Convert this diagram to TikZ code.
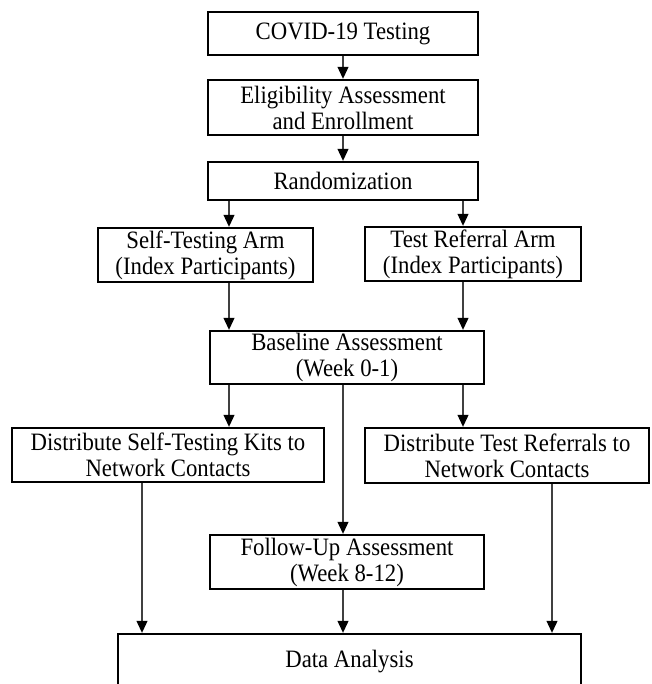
\documentclass[tikz,border=0pt]{standalone}
\usepackage{fontspec}
\setmainfont[FakeStretch=0.91]{Liberation Serif}
\usetikzlibrary{arrows.meta}
\begin{document}
\begin{tikzpicture}[x=1pt,y=-1pt,
  box/.style={draw=black,line width=2.4pt,align=center,inner sep=0pt,
    font=\fontsize{25}{26}\selectfont},
  arr/.style={draw=black!75,line width=1.1pt,-{Triangle[width=11pt,length=12pt,fill=black,color=black]}}]
\useasboundingbox (0,0) rectangle (651,684);
\node[box,minimum width=270pt,minimum height=43pt] (covid) at (343,33.5) {COVID-19 Testing};
\node[box,minimum width=270pt,minimum height=55pt] (elig) at (343,107.5) {Eligibility Assessment\\and Enrollment};
\node[box,minimum width=270pt,minimum height=38pt] (rand) at (343,181) {Randomization};
\node[box,minimum width=215pt,minimum height=54pt] (selfarm) at (205.5,255) {Self-Testing Arm\\(Index Participants)};
\node[box,minimum width=216pt,minimum height=54pt] (refarm) at (473,254) {Test Referral Arm\\(Index Participants)};
\node[box,minimum width=274pt,minimum height=53pt] (base) at (347,357.5) {Baseline Assessment\\(Week 0-1)};
\node[box,minimum width=312pt,minimum height=54pt] (dself) at (168,455) {Distribute Self-Testing Kits to\\Network Contacts};
\node[box,minimum width=284pt,minimum height=55pt] (dref) at (507,455.5) {Distribute Test Referrals to\\Network Contacts};
\node[box,minimum width=274pt,minimum height=54pt] (follow) at (347,562) {Follow-Up Assessment\\(Week 8-12)};
\node[box,minimum width=463pt,minimum height=56pt] (data) at (349.5,662) {Data Analysis};
\coordinate (xL) at (229,0);
\coordinate (xR) at (463,0);
\coordinate (xM) at (343,0);
\coordinate (xLL) at (142,0);
\coordinate (xRR) at (552,0);
\draw[arr] (covid.south -| xM) -- (elig.north -| xM);
\draw[arr] (elig.south -| xM) -- (rand.north -| xM);
\draw[arr] (rand.south -| xL) -- (selfarm.north -| xL);
\draw[arr] (rand.south -| xR) -- (refarm.north -| xR);
\draw[arr] (selfarm.south -| xL) -- (base.north -| xL);
\draw[arr] (refarm.south -| xR) -- (base.north -| xR);
\draw[arr] (base.south -| xL) -- (dself.north -| xL);
\draw[arr] (base.south -| xR) -- (dref.north -| xR);
\draw[arr] (base.south -| xM) -- (follow.north -| xM);
\draw[arr] (dself.south -| xLL) -- (data.north -| xLL);
\draw[arr] (follow.south -| xM) -- (data.north -| xM);
\draw[arr] (dref.south -| xRR) -- (data.north -| xRR);
\end{tikzpicture}
\end{document}
